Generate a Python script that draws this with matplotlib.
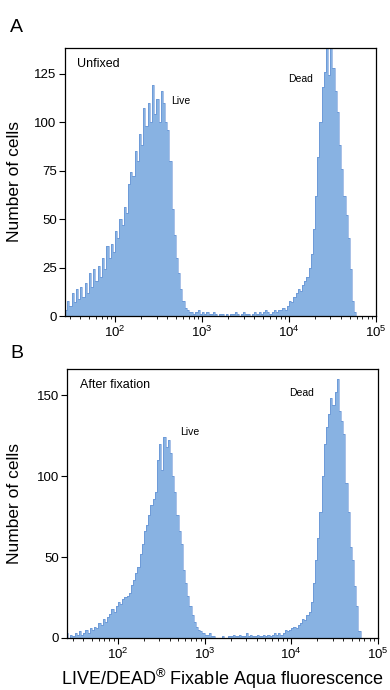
import numpy as np
import matplotlib
matplotlib.use("Agg")
import matplotlib.pyplot as plt
from matplotlib.ticker import LogLocator, NullFormatter

plt.rcParams['font.family'] = ['Liberation Sans', 'DejaVu Sans']
plt.rcParams['mathtext.fontset'] = 'custom'
plt.rcParams['mathtext.rm'] = 'Liberation Sans'
plt.rcParams['mathtext.it'] = 'Liberation Sans:italic'
plt.rcParams['mathtext.bf'] = 'Liberation Sans:bold'

# Histogram bins: log10 start and width (decades)
log_start = 1.40
bin_width = 0.025

# Panel A: Unfixed
counts_unfixed = [
    6, 3, 8, 5, 12, 7, 14, 9, 15, 10,
    17, 12, 22, 15, 24, 18, 26, 20, 30, 24,
    36, 30, 37, 33, 44, 40, 50, 47, 56, 53,
    68, 74, 72, 85, 80, 94, 88, 107, 98, 110,
    100, 119, 104, 112, 100, 116, 110, 100, 96, 80,
    55, 42, 30, 22, 14, 8, 4, 3, 2, 2,
    1, 2, 3, 1, 2, 1, 2, 1, 1, 2,
    1, 0, 1, 1, 0, 1, 0, 1, 1, 2,
    1, 0, 1, 2, 1, 1, 0, 1, 2, 1,
    2, 1, 2, 3, 2, 1, 2, 3, 2, 3,
    3, 4, 3, 5, 8, 7, 10, 12, 14, 13,
    16, 18, 20, 25, 32, 45, 62, 82, 100, 118,
    126, 140, 124, 140, 128, 116, 105, 88, 76, 62,
    52, 40, 24, 8, 2, 0, 0, 0,
]

# Panel B: After fixation
counts_fixed = [
    3, 0, 2, 1, 3, 2, 4, 2, 3, 5,
    3, 6, 5, 7, 6, 9, 8, 12, 10, 13,
    15, 18, 16, 20, 22, 21, 24, 25, 26, 28,
    33, 36, 40, 44, 52, 58, 66, 70, 76, 82,
    86, 90, 110, 120, 104, 124, 118, 122, 114, 100,
    90, 76, 66, 58, 42, 34, 26, 20, 14, 10,
    7, 5, 4, 3, 2, 2, 3, 1, 1, 0,
    0, 0, 1, 0, 0, 1, 1, 2, 1, 1,
    2, 1, 1, 3, 1, 2, 1, 1, 2, 1,
    1, 2, 1, 2, 1, 2, 3, 2, 3, 2,
    3, 5, 4, 5, 6, 7, 6, 8, 9, 12,
    11, 14, 16, 22, 34, 48, 62, 78, 100, 120,
    130, 138, 148, 144, 152, 160, 140, 134, 126, 96,
    78, 56, 48, 32, 20, 4, 0, 0,
]

panel_letters = ["A", "B"]
panel_titles = ["Unfixed", "After fixation"]
y_ticks_A = [0, 25, 50, 75, 100, 125]
y_ticks_B = [0, 50, 100, 150]
x_ticks = [1e2, 1e3, 1e4, 1e5]
x_tick_labels = [r"10$^{2}$", r"10$^{3}$", r"10$^{4}$", r"10$^{5}$"]

fill_color = "#88b2e2"
edge_color = "#5585d0"

fig = plt.figure(figsize=(3.9, 6.9), dpi=100)

def make_panel(rect, counts, ylim, yticks, xlim_log):
    ax = fig.add_axes(rect)
    n = len(counts)
    edges = 10 ** (log_start + bin_width * np.arange(n + 1))
    ax.stairs(counts, edges, fill=True, color=fill_color, linewidth=0)
    ax.stairs(counts, edges, fill=False, color=edge_color, linewidth=0.6, alpha=0.6)
    ax.set_xscale("log")
    ax.set_xlim(10 ** xlim_log, 1e5)
    ax.set_ylim(*ylim)
    ax.set_yticks(yticks)
    ax.set_xticks(x_ticks)
    ax.set_xticklabels(x_tick_labels)
    ax.xaxis.set_minor_locator(LogLocator(base=10, subs=np.arange(2, 10) * 1.0, numticks=20))
    ax.xaxis.set_minor_formatter(NullFormatter())
    ax.tick_params(axis="both", which="major", direction="out", length=4, width=0.8,
                   labelsize=9.5, pad=2)
    ax.tick_params(axis="x", which="minor", direction="out", length=2.5, width=0.6)
    for s in ax.spines.values():
        s.set_linewidth(0.9)
    return ax

axA = make_panel([0.1667, 0.542, 0.7973, 0.388], counts_unfixed, (0, 138), y_ticks_A, 1.425)
axB = make_panel([0.172, 0.0754, 0.797, 0.3896], counts_fixed, (0, 166), y_ticks_B, 1.414)

axA.text(0.04, 0.965, panel_titles[0], transform=axA.transAxes, fontsize=9, va="top", ha="left")
axA.text(10 ** 2.65, 111, "Live", fontsize=7.5, ha="left", va="center")
axA.text(10 ** 3.99, 122, "Dead", fontsize=7.5, ha="left", va="center")

axB.text(0.04, 0.965, panel_titles[1], transform=axB.transAxes, fontsize=9, va="top", ha="left")
axB.text(10 ** 2.72, 127, "Live", fontsize=7.5, ha="left", va="center")
axB.text(10 ** 3.98, 151, "Dead", fontsize=7.5, ha="left", va="center")

fig.text(10 / 390, 1 - 28 / 690, panel_letters[0], fontsize=14, ha="left", va="center")
fig.text(10 / 390, 1 - 354 / 690, panel_letters[1], fontsize=14, ha="left", va="center")

fig.text(15 / 390, 1 - 182 / 690, "Number of cells", fontsize=12.5, rotation=90,
         ha="center", va="center")
fig.text(15 / 390, 1 - 503 / 690, "Number of cells", fontsize=12.5, rotation=90,
         ha="center", va="center")

fig.text(222 / 390, 1 - 679 / 690, "LIVE/DEAD$^{\u00ae}$ Fixable Aqua fluorescence", fontsize=13,
         ha="center", va="center")

fig.savefig("out.png", dpi=100)
